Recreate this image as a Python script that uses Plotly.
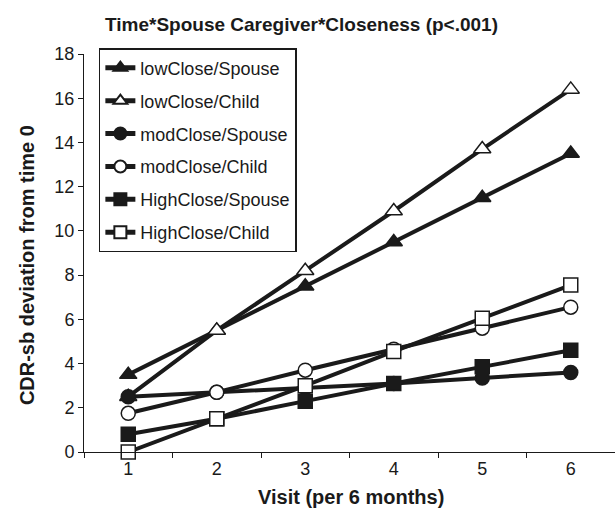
import plotly.graph_objects as go

visits = ["1", "2", "3", "4", "5", "6"]
low_spouse = [3.5, 5.5, 7.5, 9.5, 11.5, 13.5]
low_child = [2.5, 5.5, 8.2, 10.9, 13.7, 16.4]
mod_spouse = [2.5, 2.7, 2.9, 3.1, 3.35, 3.6]
mod_child = [1.75, 2.7, 3.7, 4.65, 5.6, 6.55]
high_spouse = [0.8, 1.5, 2.3, 3.1, 3.85, 4.6]
high_child = [0.0, 1.5, 3.0, 4.55, 6.05, 7.55]
y_ticks = [0, 2, 4, 6, 8, 10, 12, 14, 16, 18]

FONT = "Arial, Liberation Sans, sans-serif"
INK = "#1a1a1a"
series = [
    ("lowClose/Spouse", low_spouse, "triangle-up", INK, 15),
    ("lowClose/Child", low_child, "triangle-up", "white", 15),
    ("modClose/Spouse", mod_spouse, "circle", INK, 14),
    ("modClose/Child", mod_child, "circle", "white", 14),
    ("HighClose/Spouse", high_spouse, "square", INK, 14),
    ("HighClose/Child", high_child, "square", "white", 14),
]

fig = go.Figure()
for i, (name, vals, sym, fill, sz) in enumerate(series):
    fig.add_trace(go.Scatter(
        x=visits, y=vals, name=name, mode="lines+markers",
        legendgroup=f"g{i}",
        line=dict(color=INK, width=4),
        marker=dict(symbol=sym, size=sz, color=fill,
                    line=dict(color=INK, width=1.5)),
        cliponaxis=False,
    ))

fig.update_layout(
    width=615, height=510,
    margin=dict(l=84, r=0, t=54, b=58, autoexpand=False),
    paper_bgcolor="white", plot_bgcolor="white",
    font=dict(family=FONT, size=18, color=INK),
    showlegend=True,
    legend=dict(
        x=0.028, y=1.015, xanchor="left", yanchor="top",
        bordercolor=INK, borderwidth=1.5, bgcolor="white",
        font=dict(size=18), tracegroupgap=6.5, itemsizing="constant",
    ),
    xaxis=dict(
        type="category", tickson="boundaries", ticks="outside",
        ticklen=5, tickcolor=INK, showline=True, linecolor=INK,
        linewidth=1, showgrid=False, zeroline=False, range=[-0.5, 5.5],
        tickfont=dict(size=18), automargin=False,
    ),
    yaxis=dict(
        range=[0, 18], tickvals=y_ticks, ticks="outside", ticklen=5,
        tickcolor=INK, showline=True, linecolor=INK, linewidth=1,
        showgrid=False, zeroline=False, tickfont=dict(size=18),
        automargin=False,
    ),
    annotations=[
        dict(text="<b>Time*Spouse Caregiver*Closeness (p<.001)</b>",
             xref="paper", yref="paper", x=0.41, y=1.073,
             xanchor="center", yanchor="middle", showarrow=False,
             font=dict(size=19)),
        dict(text="<b>Visit (per 6 months)</b>",
             xref="paper", yref="paper", x=0.503, y=-0.114,
             xanchor="center", yanchor="middle", showarrow=False,
             font=dict(size=20)),
        dict(text="<b>CDR-sb deviation from time 0</b>",
             xref="paper", yref="paper", x=-0.107, y=0.47,
             xanchor="center", yanchor="middle", showarrow=False,
             textangle=-90, font=dict(size=20)),
    ],
)

fig.write_html("out.html", config={"displayModeBar": False},
               post_script="document.body.style.margin='0';")
